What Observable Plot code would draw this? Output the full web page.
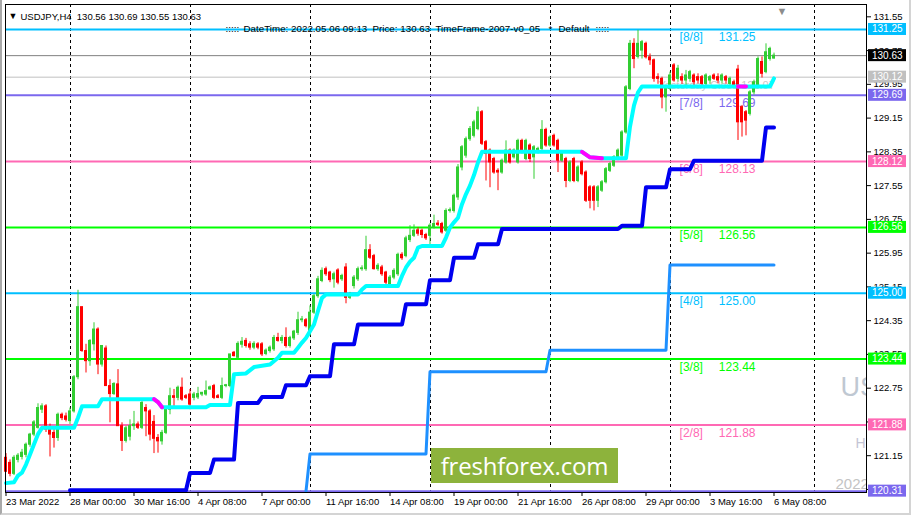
<!DOCTYPE html>
<html><head><meta charset="utf-8">
<script src="https://cdn.jsdelivr.net/npm/d3@7"></script>
<script src="https://cdn.jsdelivr.net/npm/@observablehq/plot@0.6"></script>
<style>
html,body{margin:0;padding:0;background:#fff;}
#wrap{position:relative;width:911px;height:515px;overflow:hidden;background:#fff;}
#logo{position:absolute;left:431px;top:448px;width:187px;height:35px;background:#8db33c;color:#fff;font:24px "Open Sans",sans-serif;display:flex;align-items:center;justify-content:center;letter-spacing:-0.2px;}
#border{position:absolute;left:0;top:0;right:0;bottom:0;border-left:2px solid #a9a9a9;border-right:2px solid #d4d4d4;border-bottom:2px solid #d4d4d4;pointer-events:none;}
</style></head>
<body><div id="wrap"><div id="chart"></div><div id="logo">freshforex.com</div><div id="border"></div></div>
<script>
// ---- candles (H4 bars, index 0 = first visible bar) ----
const open = [121.10,120.98,120.72,121.05,121.12,121.17,121.41,121.65,121.81,122.24,122.32,121.81,121.69,121.57,122.12,122.08,121.97,122.20,123.01,124.67,
123.63,123.39,123.79,124.14,123.31,123.69,122.80,122.61,122.84,121.85,121.50,121.60,121.85,121.89,121.81,122.28,122.20,121.95,121.57,121.49,
121.69,122.24,122.56,122.52,122.76,122.56,122.60,122.52,122.53,122.60,122.60,122.72,122.80,122.56,122.52,122.80,122.80,123.59,123.47,123.78,
123.87,123.79,123.71,123.79,123.79,123.56,123.63,123.67,123.94,123.87,123.94,123.75,123.93,124.06,124.36,124.36,124.02,124.54,124.93,125.29,
125.57,125.49,125.33,125.54,125.33,125.61,124.89,125.17,125.33,125.57,125.57,126.02,125.88,125.57,125.61,125.49,125.21,125.37,125.45,125.91,
125.88,126.26,126.36,126.49,126.48,126.38,126.36,126.56,126.65,126.64,126.48,126.95,126.95,127.27,127.98,128.26,128.65,128.73,128.89,129.29,
128.58,128.38,128.18,127.90,127.86,128.10,128.38,128.22,128.10,128.61,128.18,128.50,128.22,128.34,128.42,128.87,128.50,128.73,128.61,128.14,
128.18,127.66,128.18,127.66,128.10,127.86,127.51,127.51,127.19,127.43,127.63,127.90,128.02,128.18,128.26,128.81,129.84,130.91,130.60,130.75,
130.91,130.59,130.52,130.12,130.08,129.64,129.84,130.40,130.08,130.12,130.04,130.08,130.16,130.12,130.12,129.96,130.04,130.16,130.12,130.04,
130.12,129.96,130.00,130.30,129.41,129.29,129.25,129.76,129.88,130.48,130.24,130.55,130.56];
const high = [121.20,121.05,121.15,121.20,121.30,121.45,121.68,121.98,122.38,122.38,122.36,121.90,121.81,122.16,122.16,122.16,122.28,123.05,125.07,124.67,
123.79,123.90,124.30,124.18,123.75,123.75,122.95,122.88,123.19,121.93,121.85,122.00,122.20,121.95,122.44,122.36,122.24,122.10,121.65,121.75,
122.28,122.75,122.72,122.80,122.99,122.60,122.72,122.65,122.77,122.65,122.92,122.80,122.84,122.60,122.99,122.84,123.55,123.62,123.85,123.95,
123.93,123.85,123.85,123.83,123.83,123.68,123.75,124.00,124.05,124.00,124.18,123.98,124.12,124.55,124.45,124.40,124.70,124.97,125.40,125.60,
125.62,125.52,125.50,125.58,125.45,125.70,125.02,125.42,125.62,125.65,126.35,126.15,125.92,125.70,125.66,125.52,125.42,125.58,125.95,125.96,
126.35,126.60,126.62,126.55,126.52,126.42,126.65,126.85,126.72,126.68,127.00,127.02,127.35,128.05,128.50,128.70,128.95,129.10,129.41,129.33,
128.62,128.42,128.22,127.95,128.18,128.61,128.42,128.42,128.65,128.65,128.65,128.54,128.50,128.46,129.09,128.91,128.73,128.77,128.65,128.34,
128.22,128.14,128.22,128.02,128.14,127.90,127.55,127.55,127.55,127.67,127.98,128.10,128.26,128.42,128.85,129.92,130.99,131.03,131.23,130.99,
130.95,130.67,130.55,130.20,130.12,129.92,130.24,130.44,130.40,130.20,130.28,130.28,130.20,130.20,130.16,130.20,130.16,130.20,130.20,130.20,
130.16,130.12,130.05,130.40,129.45,129.33,129.80,130.05,130.60,130.60,130.91,130.83,130.69];
const low = [120.75,120.65,120.68,120.98,121.05,121.10,121.35,121.60,121.78,122.15,121.70,121.12,121.33,121.49,121.98,121.95,121.89,122.16,122.95,123.60,
123.11,123.27,123.63,123.07,123.25,122.80,121.93,122.58,121.85,121.25,121.45,121.50,121.75,121.77,121.77,121.60,121.50,121.20,121.21,121.40,
121.65,122.12,122.28,122.45,122.44,122.48,122.24,122.45,122.48,122.55,122.56,122.70,122.48,122.50,122.48,122.76,122.76,123.49,123.45,123.70,
123.70,123.65,123.66,123.66,123.50,123.52,123.58,123.62,123.84,123.80,123.70,123.70,123.88,124.00,124.30,124.18,123.98,124.50,124.88,125.25,
125.40,125.25,125.12,125.20,125.28,124.75,124.85,125.10,125.28,125.52,125.52,125.80,125.55,125.52,125.40,125.15,125.16,125.32,125.40,125.78,
125.84,126.20,126.32,126.35,126.30,126.25,126.15,126.52,126.58,126.40,126.44,126.90,126.90,127.20,127.90,128.20,128.60,128.68,128.85,128.50,
127.66,127.50,127.82,127.43,127.82,128.06,128.06,128.18,128.06,128.30,128.14,128.10,127.70,128.30,128.38,128.46,128.46,128.46,127.86,128.10,
127.50,127.62,127.62,127.62,127.78,127.15,127.00,126.95,127.03,127.39,127.59,127.86,127.98,128.14,128.22,128.77,129.80,130.32,130.55,130.55,
130.55,130.40,130.00,129.95,129.37,129.29,129.80,130.00,130.00,129.95,129.90,130.00,129.92,129.96,129.92,129.92,129.95,130.04,129.96,129.96,
129.95,129.92,129.85,128.62,128.70,128.73,129.20,129.70,129.84,130.10,130.20,130.50,130.55];
const close = [120.77,120.72,121.10,121.15,121.22,121.41,121.65,121.94,122.28,122.32,121.77,121.65,121.57,122.12,122.04,122.00,122.20,123.01,124.67,123.63,
123.39,123.87,124.14,123.31,123.75,122.80,122.61,122.85,121.85,121.50,121.80,121.85,121.89,121.81,122.40,122.20,121.65,121.55,121.49,121.69,
122.28,122.56,122.52,122.76,122.48,122.52,122.36,122.60,122.61,122.64,122.68,122.77,122.52,122.52,122.80,122.82,123.55,123.51,123.80,123.85,
123.75,123.71,123.80,123.71,123.55,123.64,123.71,123.94,123.87,123.94,123.75,123.94,124.09,124.36,124.38,124.22,124.54,124.93,125.33,125.53,
125.45,125.31,125.45,125.25,125.41,124.89,124.97,125.37,125.57,125.59,126.02,125.84,125.57,125.65,125.45,125.25,125.37,125.53,125.91,125.83,
126.30,126.36,126.48,126.41,126.38,126.30,126.60,126.64,126.62,126.44,126.95,126.97,127.31,127.98,128.46,128.65,128.89,129.05,129.29,128.54,
128.30,128.10,127.86,127.86,128.14,128.38,128.10,128.38,128.61,128.34,128.61,128.18,128.46,128.42,128.87,128.50,128.69,128.50,128.14,128.30,
127.66,128.10,127.66,127.98,127.82,127.19,127.19,127.19,127.51,127.63,127.94,128.06,128.22,128.38,128.81,129.88,130.91,130.55,130.91,130.95,
130.59,130.52,130.08,130.08,129.64,129.88,130.16,130.04,130.32,130.04,130.16,130.24,130.00,130.04,129.96,130.16,130.12,130.08,130.04,130.16,
130.04,130.08,129.88,129.05,129.05,129.09,129.76,130.00,130.55,130.20,130.71,130.79,130.63];

// ---- trailing line (cyan) and its magenta parts ----
const trailBars = [0,2,3,4,5,6,7,8,9,17,18,19,23,24,37,38,39,50,51,56,57,60,62,66,68,69,72,73,74,75,76,77,78,79,80,88,89,90,98,99,100,101,102,103,104,109,110,111,112,113,114,115,116,117,118,119,144,146,149,155,156,157,158,159,191,192];
const trailVals = [120.50,120.52,120.68,120.75,120.94,121.18,121.42,121.66,121.81,121.81,122.05,122.32,122.32,122.49,122.49,122.42,122.30,122.30,122.35,122.35,123.08,123.10,123.25,123.31,123.47,123.59,123.59,123.71,123.83,123.94,124.10,124.26,124.58,124.89,124.97,124.97,125.09,125.17,125.17,125.41,125.61,125.75,125.84,126.08,126.12,126.12,126.32,126.56,126.68,126.79,127.11,127.35,127.55,127.80,128.10,128.35,128.35,128.22,128.20,128.20,128.95,129.45,129.76,129.90,129.90,130.09];
const magBars = [37,38,39,144,146,149,183,185];
const magVals = [122.49,122.42,122.30,128.35,128.22,128.20,129.90,129.90];
const magSeg  = [1,1,1,2,2,2,3,3];

// ---- step lines ----
const darkBars = [16,45,46,51,52,57,58,63,64,69,70,75,76,81,82,87,88,99,100,105,106,111,112,117,118,123,124,153,154,159,160,165,166,171,172,189,190,192];
const darkVals = [120.33,120.33,120.74,120.74,121.06,121.06,122.40,122.40,122.54,122.54,122.82,122.82,123.03,123.03,123.79,123.79,124.26,124.26,124.74,124.74,125.31,125.31,125.84,125.84,126.16,126.16,126.52,126.52,126.60,126.60,127.51,127.51,127.94,127.94,128.14,128.14,128.93,128.93];
const lightBars = [75,76,105,106,135,136,165,166,192];
const lightVals = [120.31,121.19,121.19,123.14,123.14,123.65,123.65,125.67,125.67];

// ---- Murrey levels ----
const levelValues = [131.25,129.69,128.12,126.56,125.00,123.44,121.88,120.31];
const levelNames  = ["[8/8]","[7/8]","[6/8]","[5/8]","[4/8]","[3/8]","[2/8]"];
const levelShown  = ["131.25","129.69","128.13","126.56","125.00","123.44","121.88"];
const levelColors = ["#00BFFF","#7B68EE","#FF69B4","#00FF00","#00BFFF","#00FF00","#FF69B4","#7B68EE"];
const currentPrice = 130.63;
const yesterdayLine = 130.12;
const yesterdayText = "Yesterday Close 129.07";

// ---- right-axis label boxes ----
const boxValues = [131.25,130.63,130.12,129.69,128.12,126.56,125.00,123.44,121.88,120.31];
const boxColors = ["#00BFFF","#000000","#C0C0C0","#7B68EE","#FF69B4","#00FF00","#00BFFF","#00FF00","#FF69B4","#7B68EE"];

// ---- axes ----
const yTicks = [131.55,130.75,129.95,129.15,128.35,127.55,126.75,125.95,125.15,124.35,123.55,122.75,121.95,121.15,120.35];
const xTickBars = [0,16,32,48,64,80,96,112,128,144,160,176,192];
const xTickLabels = ["23 Mar 2022","28 Mar 00:00","30 Mar 16:00","4 Apr 08:00","7 Apr 00:00","11 Apr 16:00","14 Apr 08:00","19 Apr 00:00","21 Apr 16:00","26 Apr 08:00","29 Apr 00:00","3 May 16:00","6 May 08:00"];
const separatorBars = [16,46,76,106,136,166,202];

// ---- texts ----
const symbolText = "USDJPY,H4  130.56 130.69 130.55 130.63";
const infoParts = [":::::", "DateTime: 2022.05.06 09:13", "Price: 130.63", "TimeFrame-2007-v0_05", "*", "Default", ":::::"];
const infoOffsets = [220, 238, 367, 430, 543, 553, 590];   // layout: left offsets inside the frame
const wmBig = "USDJPY,H4", wmSmall = "HIGH", wmDate = "2022.05.06";

const candles = open.map((o, i) => ({i, o, h: high[i], l: low[i], c: close[i], up: close[i] >= o}));
const trail = trailBars.map((b, k) => ({b, v: trailVals[k]}));
const mag = magBars.map((b, k) => ({b, v: magVals[k], s: magSeg[k]}));
const dark = darkBars.map((b, k) => ({b, v: darkVals[k]}));
const light = lightBars.map((b, k) => ({b, v: lightVals[k]}));
const levels = levelValues.map((v, k) => ({v, color: levelColors[k]}));
const levelLbl = levelNames.map((n, k) => ({n, t: levelShown[k], v: levelValues[k], color: levelColors[k]}));

const UP = "#32CD32", DN = "#FF0000";
const FONT = "'Liberation Sans', Arial, sans-serif";
const NARROW = "'Liberation Sans Narrow', 'Arial Narrow', 'Liberation Sans', sans-serif";

const plot = Plot.plot({
  width: 911, height: 515,
  marginLeft: 5, marginRight: 45, marginTop: 4, marginBottom: 23,
  x: {domain: [-0.125, 215.125], axis: null},
  y: {domain: [120.278, 131.842], axis: null},
  color: {type: "identity"},
  style: {background: "white", fontFamily: FONT, color: "black", overflow: "visible"},
  marks: [
    Plot.ruleX(separatorBars, {stroke: "black", strokeWidth: 1, strokeDasharray: "3,3", shapeRendering: "crispEdges"}),
    Plot.ruleY(levels, {y: "v", stroke: "color", strokeWidth: 2}),
    Plot.ruleY([currentPrice], {stroke: "#808080", strokeWidth: 1}),
    Plot.ruleY([yesterdayLine], {stroke: "#C0C0C0", strokeWidth: 1}),
    Plot.text([yesterdayText], {x: () => 163.1, y: () => yesterdayLine, text: d => d, dy: 8, textAnchor: "start", fill: "#C8C8C8", fontSize: 11}),
    Plot.text(levelLbl, {x: () => 168.4, y: "v", text: "n", dy: 8, textAnchor: "start", fill: "color", fontSize: 12}),
    Plot.text(levelLbl, {x: () => 178.2, y: "v", text: "t", dy: 8, textAnchor: "start", fill: "color", fontSize: 12}),
    Plot.ruleX(candles, {x: "i", y1: "l", y2: "h", stroke: d => d.up ? UP : DN, strokeWidth: 1}),
    Plot.rect(candles, {x1: d => d.i - 0.375, x2: d => d.i + 0.375, y1: "o", y2: "c", fill: d => d.up ? UP : DN, insetTop: -0.5, insetBottom: -0.5}),
    Plot.line(light, {x: "b", y: "v", stroke: "#1E90FF", strokeWidth: 3}),
    Plot.line(dark, {x: "b", y: "v", stroke: "#0000F0", strokeWidth: 4}),
    Plot.line(trail, {x: "b", y: "v", stroke: "#00FFFF", strokeWidth: 4}),
    Plot.line(mag, {x: "b", y: "v", z: "s", stroke: "#FF00FF", strokeWidth: 4}),
    Plot.text([wmBig], {frameAnchor: "top-left", dx: 835, dy: 372, text: d => d, textAnchor: "start", fill: "#BFC8D2", fontSize: 27, fontFamily: NARROW, clip: true}),
    Plot.text([wmSmall], {frameAnchor: "top-left", dx: 850, dy: 434, text: d => d, textAnchor: "start", fill: "#C4C4D4", fontSize: 14, fontFamily: NARROW, clip: true}),
    Plot.text([wmDate], {frameAnchor: "top-left", dx: 830, dy: 474, text: d => d, textAnchor: "start", fill: "#C4C4C4", fontSize: 15, fontFamily: NARROW, clip: true}),
    Plot.text(["▼"], {frameAnchor: "top-left", dx: 3, dy: 8.5, text: d => d, textAnchor: "start", fill: "black", fontSize: 9}),
    Plot.text([symbolText], {frameAnchor: "top-left", dx: 15, dy: 8.5, text: d => d, textAnchor: "start", fill: "black", fontSize: 9.5}),
    Plot.text(infoParts, {frameAnchor: "top-left", dx: 0, dy: 21, x: null, text: d => d, textAnchor: "start", fill: "black", fontSize: 9.8,
      transform: (data, facets) => ({data, facets})}),
    Plot.text(["▼"], {frameAnchor: "top-left", dx: 771, dy: 3, text: d => d, textAnchor: "start", fill: "#8c8c8c", fontSize: 11}),
    Plot.axisY({anchor: "right", ticks: yTicks, tickFormat: d => d.toFixed(2), tickSize: 4, tickPadding: 3, fontSize: 9.5}),
    Plot.axisX({ticks: xTickBars, tickFormat: d => xTickLabels[xTickBars.indexOf(d)], textAnchor: "start", tickSize: 4, tickPadding: 2, fontSize: 9.5, dx: 0}),
    Plot.frame({stroke: "black", shapeRendering: "crispEdges"})
  ]
});
document.getElementById("chart").appendChild(plot);

// info line segments: shift each one to its own offset (all share the frame anchor)
d3.select(plot).selectAll("text").filter(function () { return infoParts.includes(this.textContent) && this.parentNode.childNodes.length === infoParts.length; })
  .each(function (d, k) {
    const t = d3.select(this);
    const tr = t.attr("transform") || "";
    const m = /translate\(([-\d.]+),\s*([-\d.]+)\)/.exec(tr);
    if (m) t.attr("transform", `translate(${+m[1] + infoOffsets[k]},${m[2]})`);
  });

// price label boxes on the right axis, placed with the plot's own scales
const ys = plot.scale("y"), xs = plot.scale("x");
const right = xs.range[1];
const g = d3.select(plot).append("g").attr("font-family", FONT).attr("font-size", 10).attr("text-anchor", "start");
boxValues.forEach((v, k) => {
  const y = ys.apply(v);
  g.append("rect").attr("x", right + 2).attr("y", y - 6).attr("width", 38).attr("height", 12).attr("fill", boxColors[k]);
  g.append("text").attr("x", right + 6).attr("y", y).attr("dy", "0.35em").attr("text-anchor", "start").attr("fill", "white").text(v.toFixed(2));
});
</script></body></html>
